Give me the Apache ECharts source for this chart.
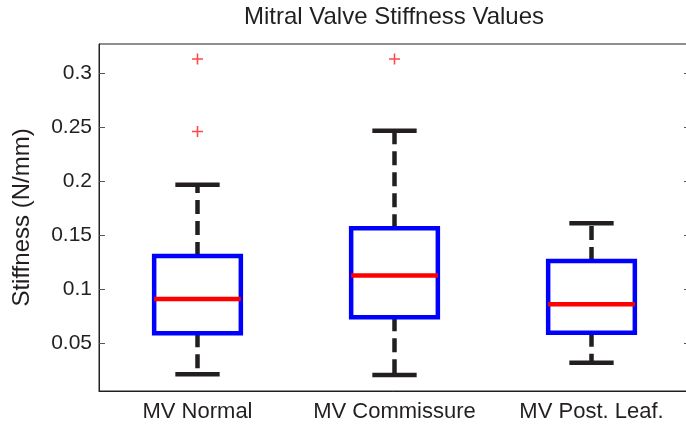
<!DOCTYPE html>
<html>
<head>
<meta charset="utf-8">
<script src="https://cdn.jsdelivr.net/npm/echarts@6/dist/echarts.min.js"></script>
<style>
  html, body { margin: 0; padding: 0; background: #fff; }
  #chart { width: 686px; height: 427px; }
</style>
</head>
<body>
<div id="chart"></div>
<script>
// groups and box statistics (N/mm)
const categories = ['MV Normal', 'MV Commissure', 'MV Post. Leaf.'];
const whiskerLow = [0.0213, 0.0207, 0.032];
const q1 = [0.0593, 0.0741, 0.0598];
const median = [0.091, 0.1126, 0.0861];
const q3 = [0.1308, 0.1565, 0.1262];
const whiskerHigh = [0.1966, 0.2466, 0.1611];
// [group index, value]
const outliers = [[0, 0.3132], [0, 0.246], [1, 0.3132]];
const yTicks = [0.05, 0.1, 0.15, 0.2, 0.25, 0.3];

const ink = '#231f20';
const font = '"Liberation Sans", Arial, sans-serif';

const boxData = categories.map(function (c, i) {
  return [i, whiskerLow[i], q1[i], median[i], q3[i], whiskerHigh[i]];
});

function renderBox(params, api) {
  const x = api.value(0);
  const low = api.coord([x, api.value(1)]);
  const lq = api.coord([x, api.value(2)]);
  const med = api.coord([x, api.value(3)]);
  const uq = api.coord([x, api.value(4)]);
  const high = api.coord([x, api.value(5)]);
  const band = api.size([1, 0])[0];
  const bw = band * 0.44;
  const cw = band * 0.225;
  const cx = med[0];
  const lw = 4.5;
  const dashed = { stroke: ink, lineWidth: lw, lineDash: [14, 7], fill: null };
  const solid = { stroke: ink, lineWidth: lw, fill: null };
  return {
    type: 'group',
    children: [
      { type: 'line', shape: { x1: cx, y1: uq[1], x2: cx, y2: high[1] }, style: dashed },
      { type: 'line', shape: { x1: cx, y1: lq[1], x2: cx, y2: low[1] }, style: dashed },
      { type: 'line', shape: { x1: cx - cw / 2, y1: high[1], x2: cx + cw / 2, y2: high[1] }, style: solid },
      { type: 'line', shape: { x1: cx - cw / 2, y1: low[1], x2: cx + cw / 2, y2: low[1] }, style: solid },
      {
        type: 'rect',
        shape: { x: cx - bw / 2, y: uq[1], width: bw, height: lq[1] - uq[1] },
        style: { stroke: '#0000ff', lineWidth: lw, fill: '#fff' }
      },
      {
        type: 'line',
        shape: { x1: cx - bw / 2, y1: med[1], x2: cx + bw / 2, y2: med[1] },
        style: { stroke: '#ff0000', lineWidth: lw }
      }
    ]
  };
}

const chart = echarts.init(document.getElementById('chart'));
chart.setOption({
  animation: false,
  backgroundColor: '#fff',
  title: {
    text: 'Mitral Valve Stiffness Values',
    left: 394,
    top: 5,
    textAlign: 'center',
    padding: 0,
    textStyle: { fontFamily: font, fontSize: 24, fontWeight: 'normal', color: ink }
  },
  grid: {
    left: 99, top: 44, width: 591, height: 347,
    outerBoundsMode: 'none',
    show: true, borderColor: ink, borderWidth: 1, backgroundColor: 'transparent'
  },
  xAxis: {
    type: 'category',
    data: categories,
    axisLine: { lineStyle: { color: ink, width: 1 } },
    axisTick: { show: false },
    axisLabel: { interval: 0, fontFamily: font, fontSize: 22, color: ink, margin: 10 },
    splitLine: { show: false }
  },
  yAxis: [
    {
      type: 'value',
      min: 0.0058,
      max: 0.327,
      name: 'Stiffness (N/mm)',
      nameLocation: 'middle',
      nameGap: 65,
      nameTextStyle: { fontFamily: font, fontSize: 24, color: ink },
      axisLine: { show: true, lineStyle: { color: ink, width: 1 } },
      axisTick: { show: true, inside: true, length: 6, customValues: yTicks, lineStyle: { color: '#555' } },
      axisLabel: { fontFamily: font, fontSize: 21, color: ink, margin: 7, customValues: yTicks },
      splitLine: { show: false }
    },
    {
      type: 'value',
      position: 'right',
      min: 0.0058,
      max: 0.327,
      axisLine: { show: true, lineStyle: { color: ink, width: 1 } },
      axisTick: { show: true, inside: true, length: 6, customValues: yTicks, lineStyle: { color: '#555' } },
      axisLabel: { show: false },
      splitLine: { show: false }
    }
  ],
  series: [
    {
      type: 'custom',
      renderItem: renderBox,
      encode: { x: 0, y: [1, 2, 3, 4, 5] },
      data: boxData,
      z: 2
    },
    {
      type: 'scatter',
      data: outliers,
      symbol: 'path://M4.3,0h1.4v10h-1.4z M0,4.3h10v1.4h-10z',
      symbolSize: 11,
      itemStyle: { color: '#ff1a1a' },
      z: 3
    }
  ]
});
</script>
</body>
</html>
